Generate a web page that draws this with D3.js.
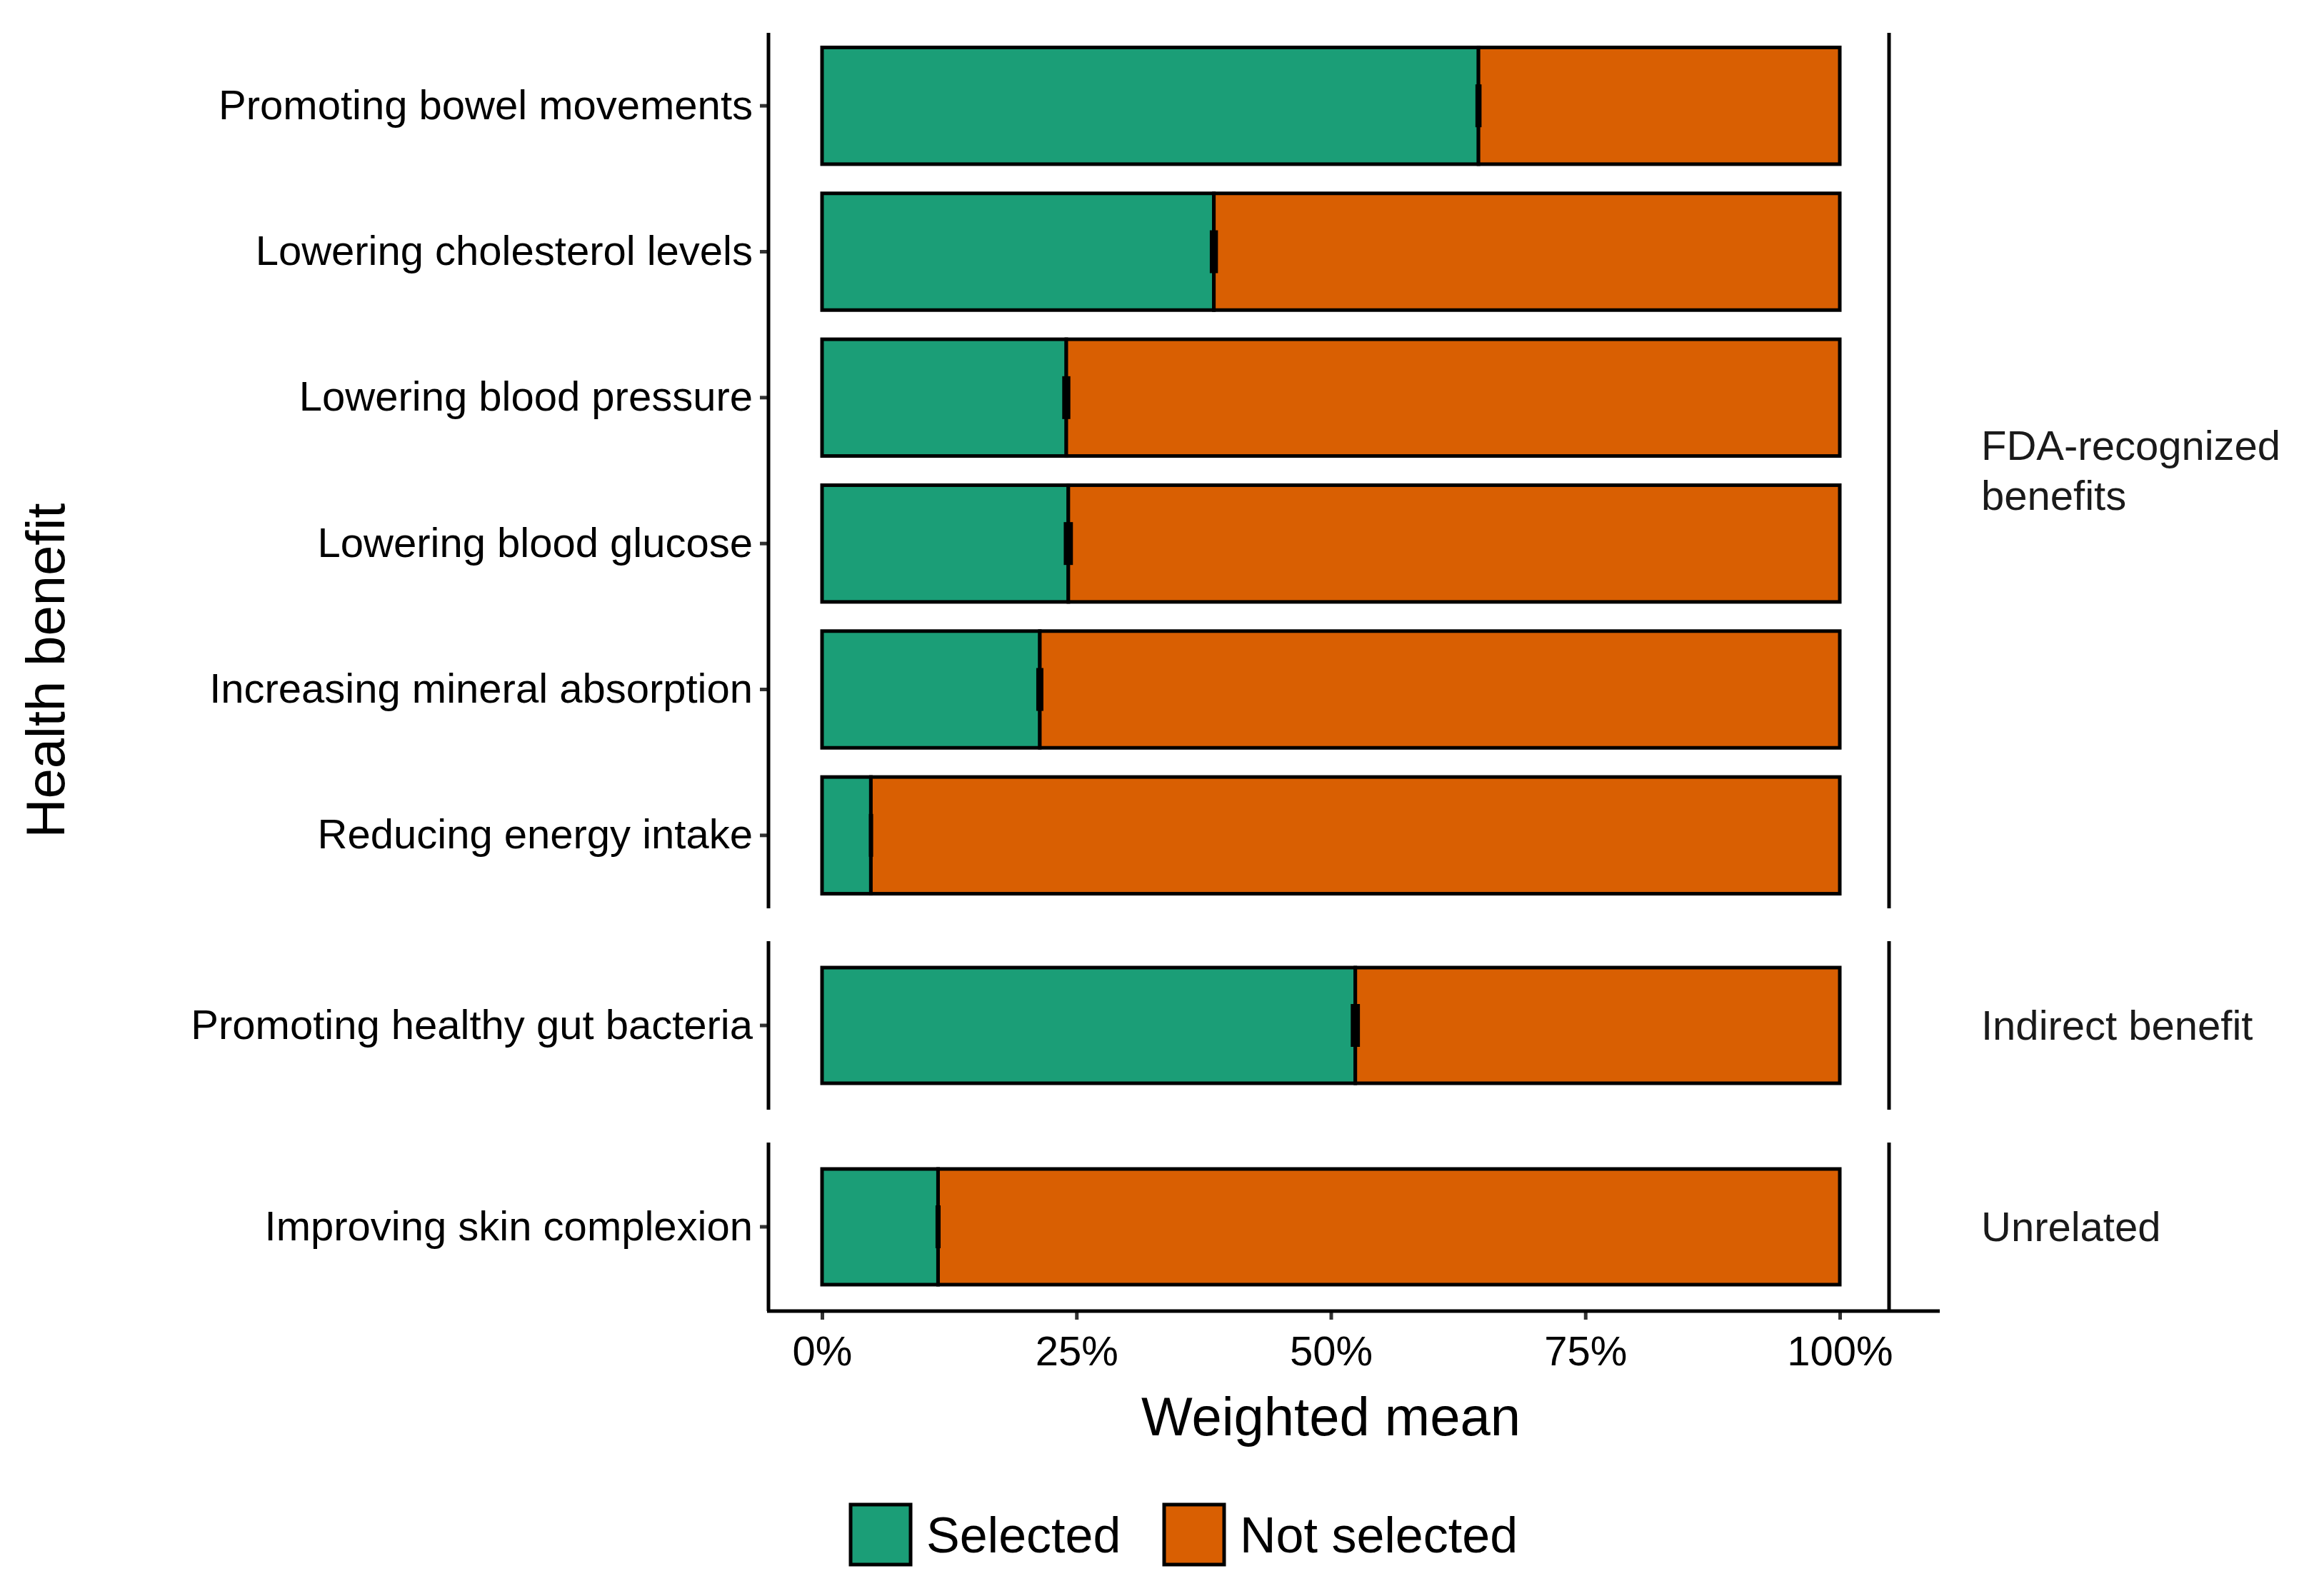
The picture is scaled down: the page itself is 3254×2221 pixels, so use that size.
<!DOCTYPE html>
<html><head><meta charset="utf-8">
<script src="https://cdn.jsdelivr.net/npm/d3@7"></script>
<style>body{margin:0;background:#fff}text{font-family:Arial,"Liberation Sans",sans-serif}</style>
</head><body><svg id="chart" width="3254" height="2221"></svg>
<script>
// data
var benefits = ["Promoting bowel movements","Lowering cholesterol levels","Lowering blood pressure","Lowering blood glucose","Increasing mineral absorption","Reducing energy intake","Promoting healthy gut bacteria","Improving skin complexion"];
var groups = ["FDA","FDA","FDA","FDA","FDA","FDA","Indirect","Unrelated"];
var selected = [64.5, 38.5, 24.0, 24.2, 21.4, 4.8, 52.4, 11.4];
var errHalf = [0.3, 0.4, 0.4, 0.45, 0.35, 0.2, 0.45, 0.25];
var groupNames = ["FDA","Indirect","Unrelated"];
var groupLabels = [["FDA-recognized","benefits"],["Indirect benefit"],["Unrelated"]];
var xTicks = [0,25,50,75,100];
var colSel = "#1b9e77", colNot = "#d95f02";

var svg = d3.select("#chart");
var axisL = 1076, axisR = 2716, stripX = 2645;
var x = d3.scaleLinear().domain([0,100]).range([1151,2576]);
var panels = [[46,1272],[1318,1554],[1600,1836]];
var bandStep = 198.5;

groupNames.forEach(function(g, gi){
  var items = benefits.map(function(b,i){return i;}).filter(function(i){return groups[i]===g;});
  var y = d3.scaleBand().domain(items.map(function(i){return benefits[i];}))
    .range(panels[gi]).paddingInner(0.2).paddingOuter(0.1);
  if (gi>0) y = d3.scaleBand().domain(items.map(function(i){return benefits[i];}))
    .range([(panels[gi][0]+panels[gi][1])/2-99,(panels[gi][0]+panels[gi][1])/2+99]).padding(0.1);
  var gp = svg.append("g");
  items.forEach(function(i){
    var y0 = y(benefits[i]), h = y.bandwidth();
    gp.append("rect").attr("x",x(0)).attr("y",y0).attr("width",x(selected[i])-x(0)).attr("height",h)
      .attr("fill",colSel).attr("stroke","#000").attr("stroke-width",5);
    gp.append("rect").attr("x",x(selected[i])).attr("y",y0).attr("width",x(100)-x(selected[i])).attr("height",h)
      .attr("fill",colNot).attr("stroke","#000").attr("stroke-width",5);
    gp.append("rect").attr("x",x(selected[i]-errHalf[i])).attr("y",y0+h/2-30)
      .attr("width",Math.max(6,x(selected[i]+errHalf[i])-x(selected[i]-errHalf[i]))).attr("height",60).attr("fill","#000");
  });
  var ax = gp.append("g").attr("transform","translate("+axisL+",0)")
    .call(d3.axisLeft(y).tickSize(12).tickPadding(10));
  ax.select(".domain").remove();
  ax.selectAll("line").attr("stroke","#333").attr("stroke-width",5);
  ax.selectAll("text").attr("font-size",58).attr("fill","#000");
  gp.append("line").attr("x1",axisL).attr("x2",axisL).attr("y1",panels[gi][0]).attr("y2",panels[gi][1])
    .attr("stroke","#000").attr("stroke-width",5);
  gp.append("line").attr("x1",stripX).attr("x2",stripX).attr("y1",panels[gi][0]).attr("y2",panels[gi][1])
    .attr("stroke","#000").attr("stroke-width",5);
  var lines = groupLabels[gi], cy = (panels[gi][0]+panels[gi][1])/2;
  var t = gp.append("text").attr("x",2774).attr("font-size",58).attr("fill","#1a1a1a");
  lines.forEach(function(l,k){
    t.append("tspan").attr("x",2774).attr("y",cy+20+(k-(lines.length-1)/2)*70).text(l);
  });
});

var xa = svg.append("g").attr("transform","translate(0,1836)")
  .call(d3.axisBottom(x).tickValues(xTicks).tickFormat(function(d){return d+"%";}).tickSize(12).tickPadding(12));
xa.select(".domain").remove();
xa.selectAll("line").attr("stroke","#333").attr("stroke-width",5);
xa.selectAll("text").attr("font-size",58).attr("fill","#000").attr("dy","0.9em");
svg.append("line").attr("x1",axisL-2).attr("x2",axisR).attr("y1",1836).attr("y2",1836).attr("stroke","#000").attr("stroke-width",5);

svg.append("text").attr("x",x(50)).attr("y",2010).attr("text-anchor","middle").attr("font-size",76).text("Weighted mean");
svg.append("text").attr("transform","translate(90,939) rotate(-90)").attr("text-anchor","middle").attr("font-size",76).text("Health benefit");

// legend
var leg = [["Selected",colSel,1191],["Not selected",colNot,1630]];
leg.forEach(function(l){
  svg.append("rect").attr("x",l[2]).attr("y",2107).attr("width",84).attr("height",84).attr("fill",l[1]).attr("stroke","#000").attr("stroke-width",5);
  svg.append("text").attr("x",l[2]+106).attr("y",2174).attr("font-size",70).text(l[0]);
});
</script></body></html>
